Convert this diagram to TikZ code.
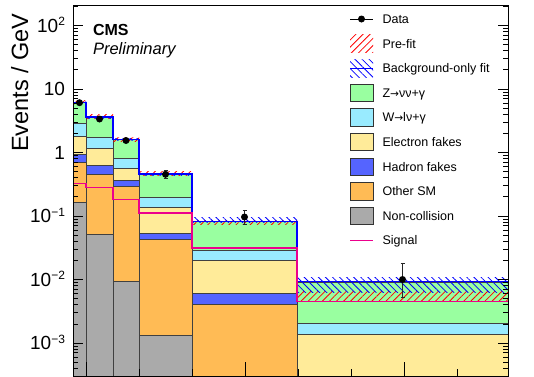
\documentclass[tikz,border=0pt]{standalone}
\usepackage{fontspec}
\setmainfont{Liberation Sans}
\newfontfamily\arrowfont{DejaVu Sans}[Scale=0.85]
\usepackage{tikz}
\usetikzlibrary{patterns.meta}

\definecolor{zgreen}{RGB}{153,255,160}
\definecolor{wcyan}{RGB}{153,235,255}
\definecolor{efake}{RGB}{255,235,153}
\definecolor{hfake}{RGB}{85,100,255}
\definecolor{othsm}{RGB}{255,187,85}
\definecolor{noncol}{RGB}{170,170,170}
\newcommand{\expo}[1]{\raisebox{6.5pt}{\fontsize{12}{12}\selectfont#1}}
\newcommand{\rarr}{{\arrowfont →}}

\begin{document}
\begin{tikzpicture}[x=1pt,y=-1pt,
                    layer/.style={draw=black!75,line width=0.7},
                    prefit/.style={pattern={Lines[angle=45,distance=5pt,line width=0.8pt]},pattern color=red},
                    bkgfit/.style={pattern={Lines[angle=-45,distance=5pt,line width=0.8pt]},pattern color=blue},
                    fitline/.style={draw=blue,line width=1.6},
                    signal/.style={draw=magenta,line width=1.8},
                    datapt/.style={circle,fill=black,inner sep=0pt,minimum size=7},
                    legbox/.style={draw=black!80,line width=0.8},
                    legtext/.style={anchor=base west,font=\fontsize{12.5}{14}\selectfont},
                    ticklab/.style={anchor=base east,font=\fontsize{19}{20}\selectfont}
                ]
    \useasboundingbox (0,0) rectangle (534,376);
    \begin{scope}
        \clip (73,5) rectangle (508,376);
        % stacked backgrounds, one bin at a time
        \foreach \xa/\xb/\ytop/\ygc/\ycy/\yyb/\ybo/\yog in
            {73/86/102.5/123/136/154/162/202.7,
             86/113/117/137/148.3/165/174.3/234.3,
             113/139/139.5/158.3/168.3/180.7/186/281.3,
             139/192/174/197.3/207.5/233.3/239.3/335.3,
             192/297/221.5/250/260.5/293/304/380,
             297/508/282/323.3/334.3/380/380/380}
            {
            \draw[layer,fill=zgreen] (\xa,\ytop) rectangle (\xb,\ygc);
            \draw[layer,fill=wcyan] (\xa,\ygc) rectangle (\xb,\ycy);
            \draw[layer,fill=efake] (\xa,\ycy) rectangle (\xb,\yyb);
            \draw[layer,fill=hfake] (\xa,\yyb) rectangle (\xb,\ybo);
            \draw[layer,fill=othsm] (\xa,\ybo) rectangle (\xb,\yog);
            \draw[layer,fill=noncol] (\xa,\yog) rectangle (\xb,380);
        }
        % uncertainty bands
        \foreach \xa/\xb/\rt/\rb/\bt/\bb in
            {73/86/100.5/104.5/101.5/103.5,
             86/113/114.5/118.5/116/118,
             113/139/137.5/141/138.5/140.5,
             139/192/171/175/173/175,
             192/297/220.5/224/217/222,
             297/508/291.5/300/277/292}
            {
            \fill[prefit] (\xa,\rt) rectangle (\xb,\rb);
            \fill[bkgfit] (\xa,\bt) rectangle (\xb,\bb);
        }
        \draw[fitline] (73,102.5) -- (86,102.5) -- (86,117) -- (113,117) -- (113,139.5) -- (139,139.5)
            -- (139,174) -- (192,174) -- (192,221.5) -- (297,221.5) -- (297,281.5) -- (508,281.5);
        \draw[signal] (73,183.5) -- (86,183.5) -- (86,187.5) -- (113,187.5) -- (113,199.5) -- (139,199.5)
            -- (139,213.3) -- (192,213.3) -- (192,248) -- (297,248) -- (297,301.5) -- (508,301.5);
        % data
        \foreach \xd/\yd/\ylo/\yhi [count=\n] in
            {79.5/102.7/102.7/102.7, 99.5/119/119/119, 126/140.5/140.5/140.5,
             165.5/174.3/170.7/178.3, 244.5/217/210.5/224, 402.5/279.5/263.3/297.3}
            {
            \draw[black!85,line width=0.9] (\xd,\ylo) -- (\xd,\yhi)
                (\xd-2,\ylo) -- (\xd+2,\ylo) (\xd-2,\yhi) -- (\xd+2,\yhi);
            \node[datapt] (data\n) at (\xd,\yd) {};
        }
    \end{scope}
    % axes
    \draw[black,line width=0.9] (73,5) rectangle (508,376);
    \foreach \k in {-3,...,2}
        {
        \draw[line width=0.8] (73,{152.5-63.5*\k}) -- (83,{152.5-63.5*\k});
        \draw[line width=0.8] (508,{152.5-63.5*\k}) -- (498,{152.5-63.5*\k});
    }
    \foreach \k in {-4,...,2}
        \foreach \m in {2,...,9}
            {
            \pgfmathsetmacro\ym{152.5-63.5*(\k+log10(\m))}
            \ifdim\ym pt>5pt
                \ifdim\ym pt<376pt
                    \draw[line width=0.8] (73,\ym) -- (78,\ym) (508,\ym) -- (503,\ym);
                \fi
            \fi
        }
    \foreach \i in {0,...,7}
        {
        \draw[line width=0.8] ({86+53*\i},376) -- ({86+53*\i},369);
    }
    \foreach \i in {0,3,6}
        \draw[line width=0.8] ({86+53*\i},376) -- ({86+53*\i},362);
    \foreach \k/\lab in {2/10\expo{2},1/10,0/1,-1/10\expo{−1},-2/10\expo{−2},-3/10\expo{−3}}
        \node[ticklab] (ytick\k) at (68.5,{152.5-63.5*\k+6.8}) {\lab};
    \node[rotate=90,anchor=base east,font=\fontsize{23.5}{24}\selectfont] (ytitle) at (28,10) {Events / GeV};
    \node[anchor=base west,font=\fontsize{16}{16}\bfseries] (cms) at (89.5,35.7) {CMS};
    \node[anchor=base west,font=\fontsize{16.5}{16}\itshape] (prelim) at (89.5,54.5) {Preliminary};
    % legend
    \draw[black,line width=0.9] (350,19) -- (373,19);
    \node[datapt] (legdot) at (361.5,19) {};
    \node[legtext] (leg0) at (379,23.5) {Data};
    \fill[prefit] (350,34.5) rectangle (373,52);
    \node[legtext] (leg1) at (379,48) {Pre-fit};
    \fill[bkgfit] (350,59) rectangle (373,77);
    \draw[fitline,line width=1] (350,68.5) -- (373,68.5);
    \node[legtext] (leg2) at (379,72.7) {Background-only fit};
    \foreach \i/\col/\txt in {3/zgreen/Z\rarr νν+γ, 4/wcyan/W\rarr lν+γ, 5/efake/Electron fakes,
                              6/hfake/Hadron fakes, 7/othsm/Other SM, 8/noncol/Non-collision}
        {
        \draw[legbox,fill=\col] (350,{19+24.6*\i-8.7}) rectangle (373,{19+24.6*\i+8.7});
        \node[legtext] (leg\i) at (379,{19+24.6*\i+4.5}) {\txt};
    }
    \draw[signal,line width=1.5] (350,240.4) -- (373,240.4);
    \node[legtext] (leg9) at (379,244.9) {Signal};
\end{tikzpicture}
\end{document}
